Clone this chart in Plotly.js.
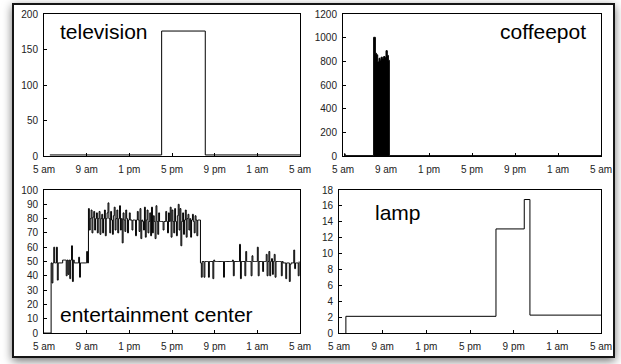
<!DOCTYPE html>
<html>
<head>
<meta charset="utf-8">
<script src="https://cdn.plot.ly/plotly-3.0.1.min.js"></script>
<style>
  html, body { margin: 0; padding: 0; background: #ffffff; width: 621px; height: 364px; overflow: hidden; }
  #frame { position: absolute; left: 12px; top: 3px; width: 599px; height: 351px;
           border: 2px solid #151515; background: #ffffff;
           box-shadow: 0 3px 9px rgba(0,0,0,0.55); }
  #chart { position: absolute; left: 0; top: 0; width: 621px; height: 364px; }
</style>
</head>
<body>
<div id="frame"></div>
<div id="chart"></div>
<script>
// ---------- data ----------
const tickHours = [5, 9, 13, 17, 21, 25, 29];
const tickLabels = ['5 am', '9 am', '1 pm', '5 pm', '9 pm', '1 am', '5 am'];

// television (W), step series
const tvHours = [5.55, 16.03, 20.12, 29];
const tvWatts = [1.5, 176, 1.5, 1.5];

// coffeepot (W), step series
const coffeeHours = [5.1, 5.2, 7.85, 8.01, 8.12, 8.23, 8.35, 8.44, 8.54, 8.66, 8.78, 8.91, 9.00, 9.12, 9.22, 9.31, 29];
const coffeeWatts = [18, 3, 1003, 868, 855, 795, 826, 810, 835, 820, 840, 830, 890, 850, 809, 3, 3];

// entertainment center (W), sampled every 5 minutes from 5 am, one row per hour
const entStartHour = 5;
const entStepHours = 5 / 60;
const entRows = [
  [0,0,0,0,0,0,0,0,49,35,49,60],          // 5 am
  [49,49,60,37,49,49,49,49,49,51,51,51],  // 6 am
  [51,40,51,41,51,38,51,61,36,51,49,49],  // 7 am
  [49,49,49,53,39,49,49,49,49,49,49,49],  // 8 am
  [57,49,87,72,80,86,70,81,85,72,80,84],  // 9 am
  [70,80,85,69,80,83,70,80,86,68,80,84],  // 10 am
  [91,80,70,85,79,69,82,88,72,80,86,70],  // 11 am
  [80,89,72,80,63,84,79,71,86,80,70,79],  // 12 pm
  [84,79,79,72,79,79,79,68,79,85,79,71],  // 1 pm
  [87,66,79,78,72,88,67,79,86,70,78,84],  // 2 pm
  [68,88,70,82,78,66,89,78,69,84,78,78],  // 3 pm
  [78,78,72,78,78,85,78,70,84,78,88,67],  // 4 pm
  [86,78,70,87,78,68,82,90,72,87,61,78],  // 5 pm
  [84,69,79,86,67,80,83,72,80,67,79,83],  // 6 pm
  [78,70,82,79,68,79,79,79,49,39,50,50],  // 7 pm
  [39,50,50,50,50,39,50,50,50,50,38,51],  // 8 pm
  [50,50,50,50,50,50,50,50,50,50,39,50],  // 9 pm
  [50,50,50,50,50,50,50,50,51,40,50,50],  // 10 pm
  [50,50,50,50,62,38,50,50,50,50,40,57],  // 11 pm
  [50,50,50,50,50,40,54,50,50,50,50,50],  // 12 am
  [60,40,50,50,50,50,43,50,50,50,55,40],  // 1 am
  [50,57,40,50,52,41,50,55,39,50,50,50],  // 2 am
  [50,50,50,40,50,49,49,49,38,49,49,49],  // 3 am
  [36,48,49,49,49,58,45,49,49,49,40,50]   // 4 am
];
const entWatts = [].concat(...entRows);

// lamp (W), step series
const lampHours = [5.63, 5.63, 19.38, 21.97, 22.49, 29];
const lampWatts = [0, 2.1, 13.1, 16.8, 2.25, 2.25];

// ---------- layout ----------
const W = 621, H = 364;
const xd = (a, b) => [a / W, b / W];
const yd = (top, bottom) => [1 - bottom / H, 1 - top / H];
const FONT = 'Liberation Sans, Arial, Helvetica, sans-serif';

function xAxis(domain, anchor) {
  return {
    domain: domain, anchor: anchor, range: [5, 29],
    tickmode: 'array', tickvals: tickHours, ticktext: tickLabels,
    ticks: 'inside', ticklen: 3, tickwidth: 1, tickcolor: '#000',
    ticklabelstandoff: 4,
    showline: true, linecolor: '#000', linewidth: 1, mirror: true,
    showgrid: false, zeroline: false,
    tickfont: { family: FONT, size: 10, color: '#222' }
  };
}
function yAxis(domain, anchor, max, dtick) {
  return {
    domain: domain, anchor: anchor, range: [0, max],
    tick0: 0, dtick: dtick,
    ticks: 'inside', ticklen: 3, tickwidth: 1, tickcolor: '#000',
    ticklabelstandoff: 3,
    showline: true, linecolor: '#000', linewidth: 1, mirror: true,
    showgrid: false, zeroline: false,
    tickfont: { family: FONT, size: 10, color: '#222' }
  };
}

const lineStyle = { color: '#000', width: 1, shape: 'hv' };

const traces = [
  { x: tvHours, y: tvWatts, xaxis: 'x', yaxis: 'y', mode: 'lines', line: lineStyle, hoverinfo: 'skip' },
  { x: coffeeHours, y: coffeeWatts, xaxis: 'x2', yaxis: 'y2', mode: 'lines', line: lineStyle,
    fill: 'tozeroy', fillcolor: '#000', hoverinfo: 'skip' },
  { x0: entStartHour, dx: entStepHours, y: entWatts, xaxis: 'x3', yaxis: 'y3', mode: 'lines', line: lineStyle, hoverinfo: 'skip' },
  { x: lampHours, y: lampWatts, xaxis: 'x4', yaxis: 'y4', mode: 'lines', line: lineStyle, hoverinfo: 'skip' }
];

const titleFont = { family: FONT, size: 21, color: '#000' };
const layout = {
  width: W, height: H,
  margin: { l: 0, r: 0, t: 0, b: 0 },
  paper_bgcolor: 'rgba(0,0,0,0)', plot_bgcolor: '#fff',
  showlegend: false,
  xaxis: xAxis(xd(44, 300), 'y'),   yaxis: yAxis(yd(14, 156), 'x', 200, 50),
  xaxis2: xAxis(xd(343, 601), 'y2'), yaxis2: yAxis(yd(14, 156), 'x2', 1200, 200),
  xaxis3: xAxis(xd(44, 300), 'y3'), yaxis3: yAxis(yd(190, 333), 'x3', 100, 10),
  xaxis4: xAxis(xd(339, 601), 'y4'), yaxis4: yAxis(yd(190, 333), 'x4', 18, 2),
  annotations: [
    { text: 'television', xref: 'paper', yref: 'paper', x: 58 / W, y: 1 - 31 / H, xanchor: 'left', yanchor: 'middle', showarrow: false, font: titleFont },
    { text: 'coffeepot', xref: 'paper', yref: 'paper', x: 588 / W, y: 1 - 31 / H, xanchor: 'right', yanchor: 'middle', showarrow: false, font: titleFont },
    { text: 'entertainment center', xref: 'paper', yref: 'paper', x: 58 / W, y: 1 - 314 / H, xanchor: 'left', yanchor: 'middle', showarrow: false, font: titleFont },
    { text: 'lamp', xref: 'paper', yref: 'paper', x: 373 / W, y: 1 - 212 / H, xanchor: 'left', yanchor: 'middle', showarrow: false, font: titleFont }
  ]
};

Plotly.newPlot('chart', traces, layout, { staticPlot: true, displayModeBar: false });
</script>
</body>
</html>
